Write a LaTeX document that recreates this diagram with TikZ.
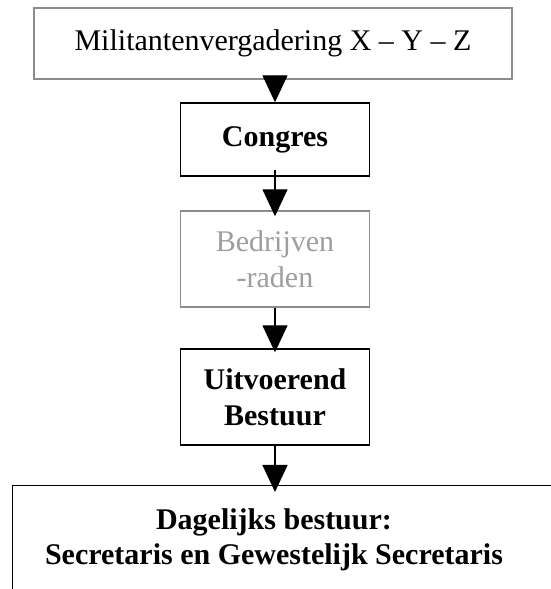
\documentclass[tikz,border=0pt]{standalone}
\usepackage{fontspec}
\setmainfont{Liberation Serif}
\usetikzlibrary{arrows.meta}
\definecolor{frameGrey}{HTML}{8C8C8C}
\definecolor{fadedGrey}{HTML}{9E9E9E}

\begin{document}
\begin{tikzpicture}[x=1pt,y=1pt,
  orgbox/.style={draw,line width=1.4pt,minimum width=189pt,align=center,font=\fontsize{30}{36}\selectfont\bfseries,inner sep=0pt},
  link/.style={-{Triangle[width=25pt,length=27pt]},line width=1.4pt}]
  \useasboundingbox (0,0) rectangle (551,589);
  \clip (0,0) rectangle (551,589);
  \node[orgbox,draw=frameGrey,font=\fontsize{30}{36}\selectfont,minimum width=478pt,minimum height=71pt] (militanten) at (273,545.5) {Militantenvergadering X -- Y -- Z};
  \node[orgbox,minimum height=73pt] (congres) at (275,449.5) {Congres};
  \node[orgbox,draw=frameGrey,text=fadedGrey,font=\fontsize{30}{36}\selectfont,minimum height=96pt] (bedrijven) at (275,330) {Bedrijven\\-raden};
  \node[orgbox,minimum height=96pt] (uitvoerend) at (275,192) {Uitvoerend\\Bestuur};
  \node[draw,line width=1.4pt,anchor=north west,minimum width=600pt,minimum height=200pt] (dagframe) at (12,104) {};
  \node[align=center,font=\fontsize{30}{35}\selectfont\bfseries,inner sep=0pt] (dagelijks) at (274,49) {Dagelijks bestuur:\\Secretaris en Gewestelijk Secretaris};

  \draw[link] (congres.north |- militanten.south) -- (congres.north);
  \draw[link] ([yshift=7pt]congres.south) -- ([yshift=-6pt]bedrijven.north);
  \draw[link] (bedrijven.south) -- ([yshift=-4pt]uitvoerend.north);
  \draw[link] (uitvoerend.south) -- ([yshift=-7pt]uitvoerend.south |- dagframe.north);
\end{tikzpicture}
\end{document}
